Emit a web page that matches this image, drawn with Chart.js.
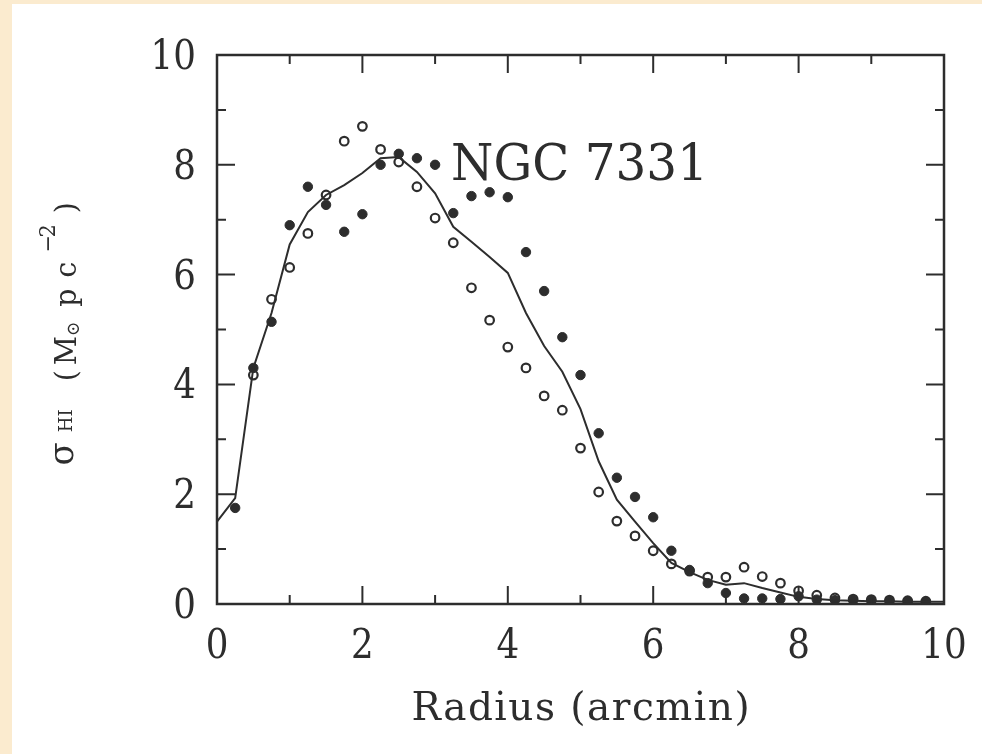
<!DOCTYPE html>
<html>
<head>
<meta charset="utf-8">
<script src="https://cdn.jsdelivr.net/npm/chart.js@4.4.1/dist/chart.umd.min.js"></script>
<style>
  html, body { margin: 0; padding: 0; }
  body { width: 982px; height: 754px; background: rgb(251, 235, 207); position: relative; overflow: hidden; }
  #sheet { position: absolute; left: 12px; top: 4px; width: 970px; height: 750px; background: #fff; }
</style>
</head>
<body>
<div id="sheet"><canvas id="chartHI" width="970" height="750"></canvas></div>
<script>
'use strict';

//colors
var ink = "rgb(45,45,45)";

//filled symbols
var filledRadius = [0.25, 0.5, 0.75, 1.0, 1.25, 1.5, 1.75, 2.0, 2.25, 2.5, 2.75, 3.0, 3.25, 3.5, 3.75, 4.0,
    4.25, 4.5, 4.75, 5.0, 5.25, 5.5, 5.75, 6.0, 6.25, 6.5, 6.75, 7.0, 7.25, 7.5, 7.75, 8.0,
    8.25, 8.5, 8.75, 9.0, 9.25, 9.5, 9.75];
var filledSigma = [1.75, 4.3, 5.14, 6.9, 7.6, 7.27, 6.78, 7.1, 8.0, 8.2, 8.12, 8.0, 7.12, 7.43, 7.5, 7.41,
    6.41, 5.7, 4.86, 4.17, 3.11, 2.3, 1.95, 1.58, 0.97, 0.62, 0.38, 0.2, 0.1, 0.1, 0.09, 0.14,
    0.08, 0.07, 0.07, 0.06, 0.05, 0.05, 0.04];

//open symbols
var openRadius = [0.5, 0.75, 1.0, 1.25, 1.5, 1.75, 2.0, 2.25, 2.5, 2.75, 3.0, 3.25, 3.5, 3.75, 4.0,
    4.25, 4.5, 4.75, 5.0, 5.25, 5.5, 5.75, 6.0, 6.25, 6.5, 6.75, 7.0, 7.25, 7.5, 7.75, 8.0,
    8.25, 8.5, 8.75, 9.0, 9.25, 9.5, 9.75];
var openSigma = [4.17, 5.55, 6.13, 6.75, 7.45, 8.43, 8.7, 8.28, 8.05, 7.6, 7.03, 6.58, 5.76, 5.17, 4.68,
    4.3, 3.79, 3.53, 2.84, 2.04, 1.51, 1.24, 0.97, 0.73, 0.6, 0.49, 0.49, 0.67, 0.5, 0.38, 0.24,
    0.16, 0.11, 0.09, 0.08, 0.07, 0.06, 0.05];

//average profile (solid line)
var lineRadius = [0, 0.25, 0.5, 0.75, 1.0, 1.25, 1.5, 1.75, 2.0, 2.25, 2.5, 2.75, 3.0, 3.25, 3.5, 3.75, 4.0,
    4.25, 4.5, 4.75, 5.0, 5.25, 5.5, 5.75, 6.0, 6.25, 6.5, 6.75, 7.0, 7.25, 7.5, 7.75, 8.0,
    8.25, 8.5, 8.75, 9.0, 9.25, 9.5, 9.75, 10.0];
var lineSigma = [1.5, 1.93, 4.3, 5.3, 6.55, 7.14, 7.45, 7.63, 7.85, 8.12, 8.14, 7.87, 7.48, 6.87, 6.6, 6.32, 6.03,
    5.3, 4.7, 4.23, 3.55, 2.6, 1.9, 1.5, 1.11, 0.75, 0.58, 0.44, 0.35, 0.38, 0.29, 0.21, 0.13,
    0.09, 0.07, 0.06, 0.05, 0.05, 0.04, 0.04, 0.04];

//axes
var xTicks = [0, 2, 4, 6, 8, 10];
var yTicks = [0, 2, 4, 6, 8, 10];
var xMinor = [1, 3, 5, 7, 9];
var yMinor = [1, 3, 5, 7, 9];
var xTitle = "Radius (arcmin)";
var galaxyName = "NGC 7331";

function toPoints(xs, ys) {
    return xs.map((x, i) => ({ x: x, y: ys[i] }));
}

var fontFace = '"DejaVu Serif", serif';

//draw text squeezed by sx, with extra letter spacing
function drawText(ctx, text, x, y, size, sx, align, spacing) {
    ctx.save();
    ctx.translate(x, y);
    ctx.scale(sx, 1);
    ctx.font = size + "px " + fontFace;
    ctx.letterSpacing = (spacing || 0) + "px";
    ctx.textAlign = align;
    ctx.textBaseline = "alphabetic";
    ctx.fillStyle = ink;
    //letterSpacing also pads after the last glyph, shift back half of it when centred
    var shift = (align == "center") ? (spacing || 0) / 2 : 0;
    ctx.fillText(text, shift, 0);
    ctx.restore();
}

//frame, inward ticks and all labels
const framePlugin = {
    id: 'frame',
    afterDatasetsDraw(chart) {
        const ctx = chart.ctx;
        const a = chart.chartArea;
        const xs = chart.scales.x;
        const ys = chart.scales.y;

        ctx.save();
        ctx.strokeStyle = ink;
        ctx.lineWidth = 2.5;
        ctx.strokeRect(a.left, a.top, a.right - a.left, a.bottom - a.top);

        ctx.lineWidth = 2;
        ctx.beginPath();
        xTicks.concat(xMinor).forEach(v => {
            const len = xTicks.includes(v) ? 18 : 9;
            const px = xs.getPixelForValue(v);
            ctx.moveTo(px, a.bottom); ctx.lineTo(px, a.bottom - len);
            ctx.moveTo(px, a.top); ctx.lineTo(px, a.top + len);
        });
        yTicks.concat(yMinor).forEach(v => {
            const len = yTicks.includes(v) ? 18 : 9;
            const py = ys.getPixelForValue(v);
            ctx.moveTo(a.left, py); ctx.lineTo(a.left + len, py);
            ctx.moveTo(a.right, py); ctx.lineTo(a.right - len, py);
        });
        ctx.stroke();
        ctx.restore();

        //tick labels
        xTicks.forEach(v => {
            drawText(ctx, String(v), xs.getPixelForValue(v), a.bottom + 54, 41, 0.87, "center");
        });
        yTicks.forEach(v => {
            drawText(ctx, String(v), a.left - 21, ys.getPixelForValue(v) + 14, 41, 0.87, "right");
        });

        //x axis title
        drawText(ctx, xTitle, (a.left + a.right) / 2, a.bottom + 116, 39, 1.0, "center", 1.5);

        //galaxy label
        drawText(ctx, galaxyName, xs.getPixelForValue(3.22), ys.getPixelForValue(7.72), 51, 0.95, "left");

        //y axis title, rotated, built from pieces for sub/superscripts
        ctx.save();
        ctx.translate(a.left - 141, ys.getPixelForValue(2.5) + 3);
        ctx.rotate(-Math.PI / 2);
        const pieces = [
            { t: "σ", u: 16, v: -3, size: 36 },
            { t: "HI", u: 49, v: -4, size: 19 },
            { t: "(", u: 94, v: 0, size: 30 },
            { t: "M", u: 119, v: 0, size: 30 },
            { t: "⊙", u: 141, v: 3, size: 18 },
            { t: "p", u: 172, v: 0, size: 30 },
            { t: "c", u: 200, v: 0, size: 30 },
            { t: "−", u: 226, v: -21, size: 22 },
            { t: "2", u: 239, v: -21, size: 22 },
            { t: ")", u: 262, v: 0, size: 30 }
        ];
        pieces.forEach(p => drawText(ctx, p.t, p.u, p.v, p.size, 0.95, "center"));
        ctx.restore();
    }
};

const chartConfig = {
    type: 'scatter',
    data: {
        datasets: [{
            label: 'Average',
            data: toPoints(lineRadius, lineSigma),
            showLine: true,
            borderColor: ink,
            borderWidth: 2,
            pointRadius: 0,
            tension: 0
        },
        {
            label: 'Filled',
            data: toPoints(filledRadius, filledSigma),
            backgroundColor: ink,
            borderColor: ink,
            borderWidth: 1,
            pointRadius: 4.7
        },
        {
            label: 'Open',
            data: toPoints(openRadius, openSigma),
            backgroundColor: 'rgba(0,0,0,0)',
            borderColor: ink,
            borderWidth: 2.2,
            pointRadius: 4.3
        }]
    },
    options: {
        responsive: false,
        animation: false,
        devicePixelRatio: 1,
        layout: { padding: { left: 0, top: 51, right: 38, bottom: 0 } },
        plugins: {
            legend: { display: false },
            tooltip: { enabled: false }
        },
        scales: {
            x: {
                type: 'linear',
                min: 0,
                max: 10,
                grid: { display: false },
                border: { display: false },
                ticks: { display: false },
                afterFit: function (s) { s.height = 150; }
            },
            y: {
                type: 'linear',
                min: 0,
                max: 10,
                grid: { display: false },
                border: { display: false },
                ticks: { display: false },
                afterFit: function (s) { s.width = 205; }
            }
        }
    },
    plugins: [framePlugin]
};

window.onload = function () {
    new Chart(document.getElementById('chartHI'), chartConfig);
};
</script>
</body>
</html>
